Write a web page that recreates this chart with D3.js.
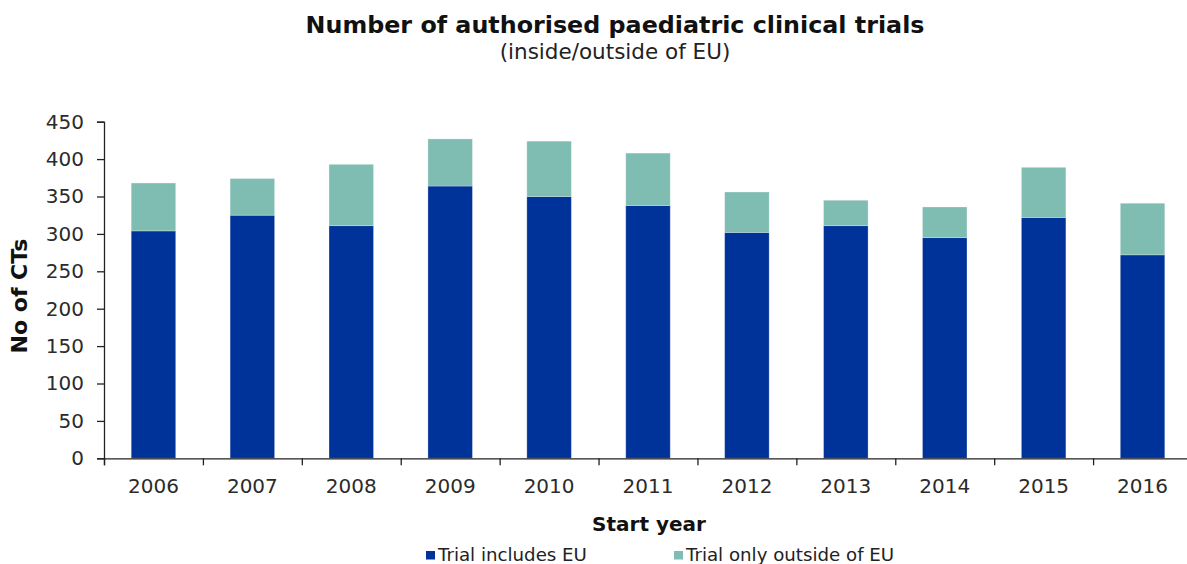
<!DOCTYPE html>
<html>
<head>
<meta charset="utf-8">
<script src="https://cdn.jsdelivr.net/npm/d3@7"></script>
<style>
  html, body { margin: 0; padding: 0; background: #fff; }
  svg { display: block; font-family: "DejaVu Sans", Verdana, sans-serif; }
</style>
</head>
<body>
<svg id="chart" width="1187" height="564"></svg>
<script>
// Paediatric clinical trials authorised per start year
const years = ["2006", "2007", "2008", "2009", "2010", "2011", "2012", "2013", "2014", "2015", "2016"];
const includesEU = [304, 325, 311, 364, 350, 338, 302, 311, 295, 322, 272];
const onlyOutsideEU = [64, 49, 82, 63, 74, 70, 54, 34, 41, 67, 69];
const yTicks = [0, 50, 100, 150, 200, 250, 300, 350, 400, 450];
const seriesNames = ["Trial includes EU", "Trial only outside of EU"];
const seriesColors = ["#003399", "#7fbcb2"];

const svg = d3.select("#chart");
const margin = { left: 104, right: 1192, top: 121.7, bottom: 458.3 };

const x = d3.scaleBand()
  .domain(years)
  .range([margin.left, margin.right])
  .paddingInner(0.55)
  .paddingOuter(0.275);

// category boundaries for the x-axis tick marks
const xEdges = d3.scaleLinear()
  .domain([0, years.length])
  .range([margin.left, margin.right]);

const y = d3.scaleLinear()
  .domain([0, 450])
  .range([margin.bottom, margin.top]);

const rows = years.map((yr, i) => ({ year: yr, inc: includesEU[i], out: onlyOutsideEU[i] }));
const stacked = d3.stack().keys(["inc", "out"])(rows);

svg.append("g")
  .selectAll("g")
  .data(stacked)
  .join("g")
  .attr("fill", (d, i) => seriesColors[i])
  .selectAll("rect")
  .data(d => d)
  .join("rect")
  .attr("x", d => x(d.data.year))
  .attr("width", x.bandwidth())
  .attr("y", d => y(d[1]))
  .attr("height", d => y(d[0]) - y(d[1]))
  .attr("stroke", "#ffffff")
  .attr("stroke-opacity", 0.35)
  .attr("stroke-width", 0.8);

// y axis
const yAxis = svg.append("g")
  .attr("transform", `translate(${margin.left},0)`)
  .call(d3.axisLeft(y).tickValues(yTicks).tickSize(7).tickPadding(13));
yAxis.select(".domain").attr("stroke", "#222").attr("stroke-width", 1.3);
yAxis.selectAll(".tick line").attr("stroke", "#222").attr("stroke-width", 1.3);
yAxis.selectAll(".tick text")
  .attr("font-size", 20)
  .attr("fill", "#2b2b2b")
  .attr("font-family", "DejaVu Sans, sans-serif");

// x axis line with ticks at category boundaries
const xAxis = svg.append("g")
  .attr("transform", `translate(0,${margin.bottom})`)
  .call(d3.axisBottom(xEdges).tickValues(d3.range(years.length + 1)).tickSize(7).tickFormat(""));
xAxis.select(".domain").attr("stroke", "#222").attr("stroke-width", 1.3);
xAxis.selectAll(".tick line").attr("stroke", "#222").attr("stroke-width", 1.3);

// x category labels
const xLabels = svg.append("g")
  .attr("transform", `translate(0,${margin.bottom})`)
  .call(d3.axisBottom(x).tickSize(0).tickPadding(21));
xLabels.select(".domain").remove();
xLabels.selectAll(".tick text")
  .attr("font-size", 20)
  .attr("fill", "#2b2b2b")
  .attr("font-family", "DejaVu Sans, sans-serif");

// titles
svg.append("text")
  .attr("x", 615).attr("y", 33)
  .attr("text-anchor", "middle")
  .attr("font-size", 23.8).attr("font-weight", "bold").attr("fill", "#111")
  .text("Number of authorised paediatric clinical trials");

svg.append("text")
  .attr("x", 615).attr("y", 59)
  .attr("text-anchor", "middle")
  .attr("font-size", 21.5).attr("fill", "#222")
  .text("(inside/outside of EU)");

svg.append("text")
  .attr("transform", `translate(27,${(margin.top + margin.bottom) / 2 + 6}) rotate(-90)`)
  .attr("text-anchor", "middle")
  .attr("font-size", 22).attr("font-weight", "bold").attr("fill", "#111")
  .text("No of CTs");

svg.append("text")
  .attr("x", 649).attr("y", 531)
  .attr("text-anchor", "middle")
  .attr("font-size", 20).attr("font-weight", "bold").attr("fill", "#111")
  .text("Start year");

// legend
const legendX = [426, 674];
const legend = svg.append("g")
  .selectAll("g")
  .data(seriesNames)
  .join("g")
  .attr("transform", (d, i) => `translate(${legendX[i]},551)`);
legend.append("rect")
  .attr("x", 0).attr("y", 0)
  .attr("width", 9).attr("height", 8.5)
  .attr("fill", (d, i) => seriesColors[i]);
legend.append("text")
  .attr("x", 12).attr("y", 10)
  .attr("font-size", 18.2).attr("fill", "#222")
  .text(d => d);
</script>
</body>
</html>
